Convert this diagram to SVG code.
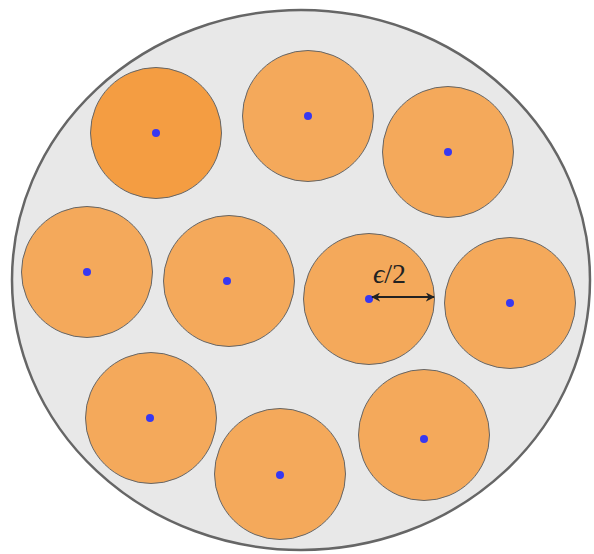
<svg xmlns="http://www.w3.org/2000/svg" width="594" height="554" viewBox="0 0 594 554">
<style>
.ball{fill:#F4A95B;stroke:#666;stroke-width:1}
.dark{fill:#F49D42}
.c{fill:#3838F0}
.lbl{font-family:"Liberation Serif","DejaVu Serif",serif;font-size:28px;fill:#222}
</style>
<defs>
<marker id="ah" viewBox="0 0 10 10" refX="9" refY="5" markerWidth="9" markerHeight="9" orient="auto-start-reverse" markerUnits="userSpaceOnUse">
<path d="M0,0 L10,5 L0,10 L3,5 Z" fill="#222"/>
</marker>
</defs>
<g id="region">
<ellipse cx="301" cy="280" rx="289" ry="270" fill="#E8E8E8" stroke="#666" stroke-width="2.5"/>
</g>
<g id="b1"><circle class="ball dark" cx="156" cy="133" r="65.5"/><circle class="c" cx="156" cy="133" r="4"/></g>
<g id="b2"><circle class="ball" cx="308" cy="116" r="65.5"/><circle class="c" cx="308" cy="116" r="4"/></g>
<g id="b3"><circle class="ball" cx="448" cy="152" r="65.5"/><circle class="c" cx="448" cy="152" r="4"/></g>
<g id="b4"><circle class="ball" cx="87" cy="272" r="65.5"/><circle class="c" cx="87" cy="272" r="4"/></g>
<g id="b5"><circle class="ball" cx="229" cy="281" r="65.5"/><circle class="c" cx="227" cy="281" r="4"/></g>
<g id="b6"><circle class="ball" cx="369" cy="299" r="65.5"/><circle class="c" cx="369" cy="299" r="4"/></g>
<g id="b7"><circle class="ball" cx="510" cy="303" r="65.5"/><circle class="c" cx="510" cy="303" r="4"/></g>
<g id="b8"><circle class="ball" cx="151" cy="418" r="65.5"/><circle class="c" cx="150" cy="418" r="4"/></g>
<g id="b9"><circle class="ball" cx="280" cy="474" r="65.5"/><circle class="c" cx="280" cy="475" r="4"/></g>
<g id="b10"><circle class="ball" cx="424" cy="435" r="65.5"/><circle class="c" cx="424" cy="439" r="4"/></g>
<g id="connectors">
<line x1="372" y1="297" x2="434" y2="297" stroke="#222" stroke-width="1.8" marker-start="url(#ah)" marker-end="url(#ah)"/>
</g>
<text class="lbl" x="373" y="283"><tspan font-style="italic">ϵ</tspan>/2</text>
</svg>
